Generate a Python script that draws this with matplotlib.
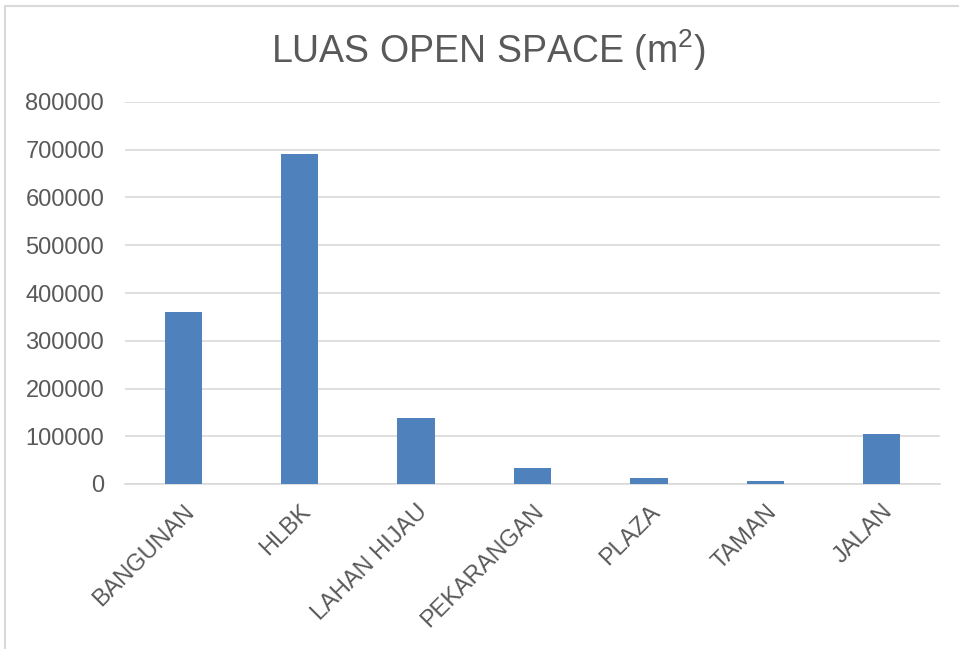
import matplotlib.pyplot as plt
from matplotlib.patches import Rectangle

kategori = ['BANGUNAN', 'HLBK', 'LAHAN HIJAU', 'PEKARANGAN', 'PLAZA', 'TAMAN', 'JALAN']
luas = [360000, 691000, 138000, 33000, 12000, 6000, 104000]
yticks = [0, 100000, 200000, 300000, 400000, 500000, 600000, 700000, 800000]

plt.rcParams['font.family'] = ['Liberation Sans', 'DejaVu Sans']
plt.rcParams['mathtext.fontset'] = 'custom'
plt.rcParams['mathtext.rm'] = 'Liberation Sans'

fig = plt.figure(figsize=(9.59, 6.49), dpi=100)
ax = fig.add_axes([125 / 959, 1 - 484 / 649, 815 / 959, 382 / 649])

# kehys kuvan ympärillä
fig.patches.append(Rectangle((5 / 959, -0.1), 1.2, 1 - 6 / 649 + 0.1, transform=fig.transFigure,
                             fill=False, edgecolor='#d9d9d9', linewidth=1.5))

x = range(len(kategori))
ax.bar(x, luas, width=0.32, color='#4f81bd', zorder=3)
ax.set_xlim(-0.5, len(kategori) - 0.5)
ax.set_ylim(0, 800000)
ax.set_yticks(yticks)
ax.set_yticklabels([str(v) for v in yticks])
ax.set_xticks(list(x))
ax.set_xticklabels(kategori, rotation=45, ha='right', va='top', rotation_mode='anchor')
ax.tick_params(axis='both', length=0, labelsize=17, labelcolor='#595959')
ax.tick_params(axis='y', pad=15)
ax.tick_params(axis='x', pad=12)
ax.grid(axis='y', color='#d9d9d9', linewidth=1.2, zorder=0)
for s in ['top', 'right', 'left']:
    ax.spines[s].set_visible(False)
ax.spines['bottom'].set_color('#d9d9d9')
ax.spines['bottom'].set_linewidth(1.2)

fig.text(488 / 959, 1 - 50 / 649, 'LUAS OPEN SPACE (m$\\mathrm{^{2}}$)', ha='center', va='center',
         fontsize=27, color='#595959')

fig.savefig('out.png', dpi=100)
